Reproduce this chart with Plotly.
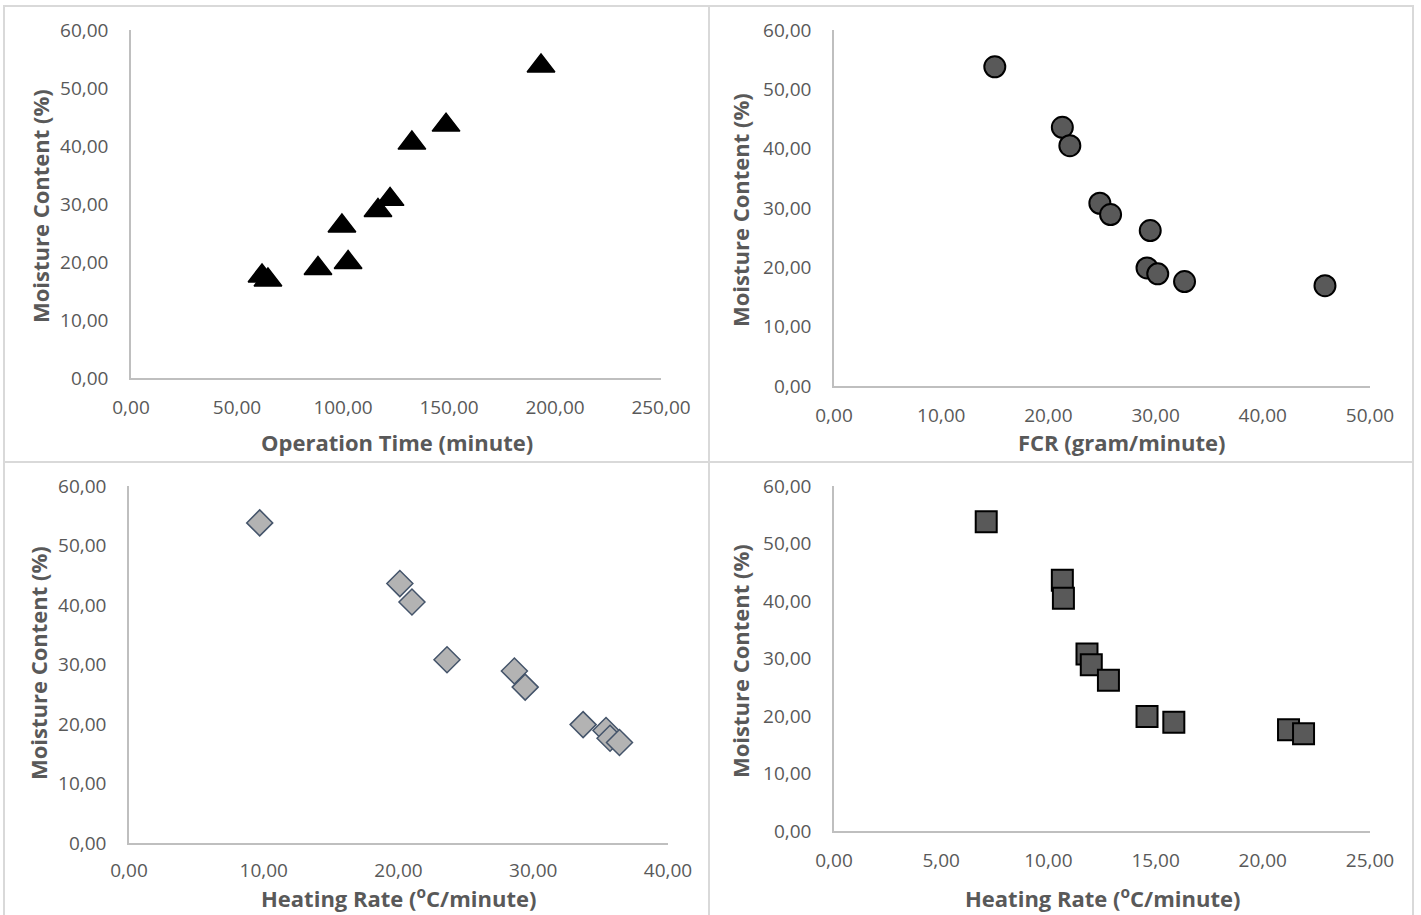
import plotly.graph_objects as go

W, H = 1421, 915

# ---- data ----
moisture = [53.8, 43.6, 40.5, 30.8, 28.9, 26.2, 19.9, 18.9, 17.6, 16.9]
operation_time = [193.4, 148.6, 132.5, 122.2, 116.5, 99.5, 102.4, 88.2, 61.8, 64.6]
fcr = [15.0, 21.3, 22.0, 24.8, 25.8, 29.5, 29.2, 30.2, 32.7, 45.8]
heating_rate_a = [9.7, 20.1, 21.0, 23.6, 28.6, 29.4, 33.7, 35.4, 35.7, 36.4]
heating_rate_b = [7.1, 10.65, 10.7, 11.8, 12.0, 12.8, 14.6, 15.85, 21.2, 21.9]

y_title = "Moisture Content (%)"
x_titles = ["Operation Time (minute)", "FCR (gram/minute)",
            "Heating Rate (<sup>o</sup>C/minute)", "Heating Rate (<sup>o</sup>C/minute)"]
x_ranges = [[0, 250], [0, 50], [0, 40], [0, 25]]
x_dticks = [50, 10, 10, 5]
y_range = [0, 60]
y_dtick = 10

# plot-area pixel boxes: (x_left, x_right, y_bottom, y_top)
boxes = [(131, 661, 378, 30), (834, 1370, 386, 30),
         (129, 668, 843, 486), (834, 1370, 831, 486)]
ytitle_pos = [(40, 206), (740, 210), (38, 663), (740, 661)]
xtitle_pos = [(397, 442), (1121, 442), (398, 897), (1102, 897)]
xtick_len = [11, 11, 9, 11]

TICK_COLOR = "#595959"
AXIS_COLOR = "#bfbfbf"
FONT = "Open Sans"

fig = go.Figure()

marker_styles = [
    dict(symbol="triangle-up", size=24, color="black", line=dict(color="black", width=1.5)),
    dict(symbol="circle", size=21, color="#595959", line=dict(color="black", width=2)),
    dict(symbol="diamond", size=20, color="#b3b3b3", line=dict(color="#44546a", width=1.5)),
    dict(symbol="square", size=21, color="#595959", line=dict(color="black", width=2)),
]
xs_all = [operation_time, fcr, heating_rate_a, heating_rate_b]

for i in range(4):
    sfx = "" if i == 0 else str(i + 1)
    fig.add_trace(go.Scatter(x=xs_all[i], y=moisture, mode="markers",
                             marker=marker_styles[i], showlegend=False,
                             xaxis="x" + sfx, yaxis="y" + sfx, cliponaxis=False))
    xl, xr, yb, yt = boxes[i]
    fig.layout["xaxis" + sfx] = dict(
        domain=[xl / W, xr / W], range=x_ranges[i], dtick=x_dticks[i], tick0=0,
        tickformat=".2f", showgrid=False, zeroline=False, showline=True,
        linecolor=AXIS_COLOR, linewidth=1.5, ticks="outside", ticklen=xtick_len[i],
        tickcolor="rgba(0,0,0,0)", anchor="y" + sfx, automargin=False,
        tickfont=dict(family=FONT, size=19, color=TICK_COLOR), fixedrange=True)
    fig.layout["yaxis" + sfx] = dict(
        domain=[1 - yb / H, 1 - yt / H], range=y_range, dtick=y_dtick, tick0=0,
        tickformat=".2f", showgrid=False, zeroline=False, showline=True,
        linecolor=AXIS_COLOR, linewidth=1.5, ticks="outside", ticklen=17,
        tickcolor="rgba(0,0,0,0)", anchor="x" + sfx, automargin=False,
        tickfont=dict(family=FONT, size=19, color=TICK_COLOR), fixedrange=True)
    fig.add_annotation(text="<b>" + y_title + "</b>", x=ytitle_pos[i][0] / W,
                       y=1 - ytitle_pos[i][1] / H, xref="paper", yref="paper",
                       textangle=-90, showarrow=False, xanchor="center", yanchor="middle",
                       font=dict(family=FONT, size=22, color=TICK_COLOR))
    fig.add_annotation(text="<b>" + x_titles[i] + "</b>", x=xtitle_pos[i][0] / W,
                       y=1 - xtitle_pos[i][1] / H, xref="paper", yref="paper",
                       showarrow=False, xanchor="center", yanchor="middle",
                       font=dict(family=FONT, size=22, color=TICK_COLOR))

# panel frames
frames = [(4, 709, 6, 462), (709, 1413, 6, 462), (4, 709, 462, 925), (709, 1413, 462, 925)]
for (x0, x1, y0, y1) in frames:
    fig.add_shape(type="rect", xref="paper", yref="paper",
                  x0=x0 / W, x1=x1 / W, y0=1 - y0 / H, y1=1 - y1 / H,
                  line=dict(color="#d9d9d9", width=2), fillcolor="rgba(0,0,0,0)")

fig.update_layout(width=W, height=H, margin=dict(l=0, r=0, t=0, b=0, pad=0, autoexpand=False),
                  paper_bgcolor="white", plot_bgcolor="white",
                  separators=",.", showlegend=False)

fig.write_html("out.html", config={"displayModeBar": False},
               post_script="document.body.style.margin='0';document.body.style.overflow='hidden';")
